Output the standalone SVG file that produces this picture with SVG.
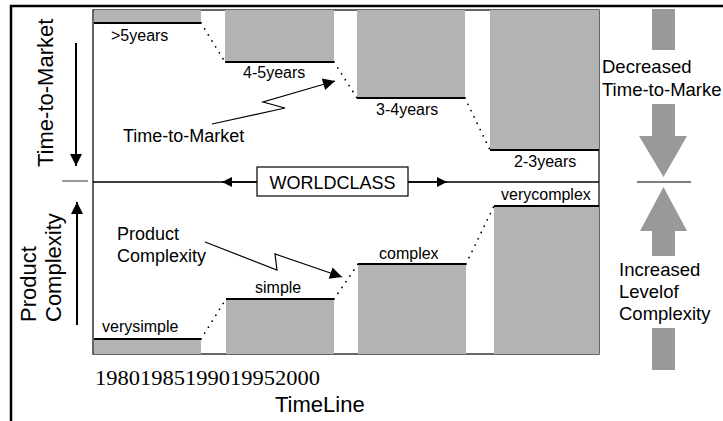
<svg xmlns="http://www.w3.org/2000/svg" width="723" height="421" viewBox="0 0 723 421">
<defs>
<style>
text{font-family:"Liberation Sans",Arial,sans-serif;fill:#000}
.bar{fill:#b3b3b3;stroke:none}
.edge{stroke:#000;stroke-width:2;fill:none}
.dot{stroke:#000;stroke-width:1.8;stroke-linecap:round;stroke-dasharray:0 7;fill:none}
.lbl{font-size:16px}
.big{font-size:18px}
.rlbl{font-size:18.5px}
.side{fill:#999}
.thin{stroke:#000;stroke-width:1.2;fill:none}
</style>
<marker id="ah" viewBox="0 0 10 10" refX="10" refY="5" markerWidth="14" markerHeight="10" markerUnits="userSpaceOnUse" orient="auto"><path d="M0,0L10,5L0,10z" fill="#000"/></marker>
<marker id="ahb" viewBox="0 0 10 10" refX="10" refY="5" markerWidth="16" markerHeight="12" markerUnits="userSpaceOnUse" orient="auto"><path d="M0,0L10,5L0,10z" fill="#000"/></marker>
</defs>
<rect width="723" height="421" fill="#fff"/>
<g id="frame">
<path d="M11,430V6H730" stroke="#000" stroke-width="2.5" fill="none"/>
<rect x="93" y="10" width="506" height="344" fill="none" stroke="#000" stroke-width="1.2"/>
<line x1="62" y1="181" x2="88" y2="181" stroke="#555" stroke-width="1.2"/>
</g>
<g id="ttm-bars">
<rect class="bar" x="94" y="10" width="107" height="13"/>
<line class="edge" x1="94" y1="23" x2="201" y2="23"/>
<rect class="bar" x="225" y="10" width="109" height="52"/>
<line class="edge" x1="225" y1="62" x2="334" y2="62"/>
<rect class="bar" x="357" y="10" width="108" height="88"/>
<line class="edge" x1="357" y1="98" x2="465" y2="98"/>
<rect class="bar" x="490" y="10" width="109" height="140"/>
<line class="edge" x1="490" y1="150" x2="599" y2="150"/>
<text class="lbl" x="111" y="41">&gt;5years</text>
<text class="lbl" x="243" y="78">4-5years</text>
<text class="lbl" x="376" y="115">3-4years</text>
<text class="lbl" x="514" y="167">2-3years</text>
</g>
<g id="cx-bars">
<rect class="bar" x="94" y="339" width="107" height="15"/>
<line class="edge" x1="94" y1="339" x2="201" y2="339"/>
<rect class="bar" x="226" y="299" width="108" height="55"/>
<line class="edge" x1="226" y1="299" x2="334" y2="299"/>
<rect class="bar" x="358" y="264" width="108" height="90"/>
<line class="edge" x1="358" y1="264" x2="466" y2="264"/>
<rect class="bar" x="494" y="206" width="105" height="148"/>
<line class="edge" x1="494" y1="206" x2="599" y2="206"/>
<text class="lbl" x="102" y="332">verysimple</text>
<text class="lbl" x="255" y="293">simple</text>
<text class="lbl" x="379" y="259">complex</text>
<text class="lbl" x="501" y="200">verycomplex</text>
</g>
<g id="connectors">
<path class="dot" d="M201,23L225,62"/>
<path class="dot" d="M334,62L357,98"/>
<path class="dot" d="M465,98L490,150"/>
<path class="dot" d="M201,339L226,299"/>
<path class="dot" d="M334,299L358,264"/>
<path class="dot" d="M466,264L494,206"/>
<path class="thin" d="M212,124L285,108L263,102L335,81" marker-end="url(#ahb)"/>
<path class="thin" d="M205,242L277,270L275,254L342,277" marker-end="url(#ahb)"/>
<line x1="93" y1="182" x2="599" y2="182" stroke="#000" stroke-width="1.5"/>
<line x1="257" y1="182" x2="222" y2="182" stroke="#000" stroke-width="1.5" marker-end="url(#ah)"/>
<line x1="408" y1="182" x2="447" y2="182" stroke="#000" stroke-width="1.5" marker-end="url(#ah)"/>
<line x1="76" y1="43" x2="76" y2="166" stroke="#000" stroke-width="2" marker-end="url(#ahb)"/>
<line x1="77" y1="325" x2="77" y2="202" stroke="#000" stroke-width="2" marker-end="url(#ahb)"/>
</g>
<g id="worldclass">
<rect x="257" y="167" width="151" height="29" fill="#fff" stroke="#000" stroke-width="1.2"/>
<text class="big" x="332.5" y="189" text-anchor="middle">WORLDCLASS</text>
</g>
<g id="callouts">
<text class="big" x="123" y="142">Time-to-Market</text>
<text class="big" x="117" y="240">Product</text>
<text class="big" x="117" y="262">Complexity</text>
</g>
<g id="axis-labels">
<text font-size="22" transform="translate(53,167) rotate(-90)">Time-to-Market</text>
<text font-size="22" transform="translate(36,322) rotate(-90)">Product</text>
<text font-size="22" transform="translate(61,322) rotate(-90)">Complexity</text>
<text x="95" y="385" font-size="22" textLength="225" lengthAdjust="spacingAndGlyphs" style="font-family:'Liberation Serif','Times New Roman',serif">19801985199019952000</text>
<text x="275" y="412" font-size="22">TimeLine</text>
</g>
<g id="right-indicators">
<rect class="side" x="652" y="9" width="23" height="41"/>
<text class="rlbl" x="602" y="73">Decreased</text>
<text class="rlbl" x="602" y="96">Time-to-Marke</text>
<path class="side" d="M652,104H675V136H687L663.5,177L639,136H652Z"/>
<line x1="637" y1="182" x2="691" y2="182" stroke="#000" stroke-width="1.2"/>
<path class="side" d="M663.5,187L687,231H675V256H652V231H640Z"/>
<text class="rlbl" x="619" y="276">Increased</text>
<text class="rlbl" x="619" y="298">Levelof</text>
<text class="rlbl" x="619" y="320">Complexity</text>
<rect class="side" x="652" y="328" width="23" height="42"/>
</g>
</svg>
